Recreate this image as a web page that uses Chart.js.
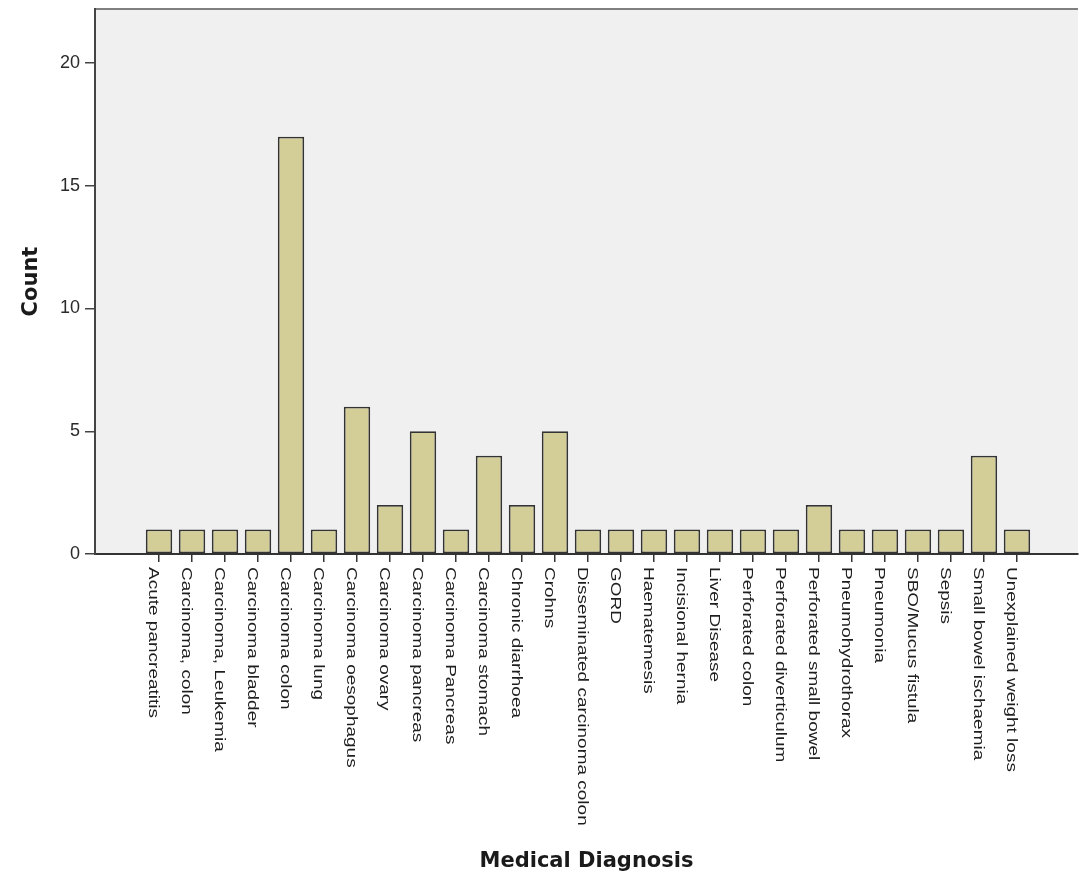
<!DOCTYPE html>
<html>
<head>
<meta charset="utf-8">
<script src="https://cdn.jsdelivr.net/npm/chart.js@4.4.1/dist/chart.umd.min.js"></script>
<style>
  body { margin: 0; background: #fff; }
  #wrap { width: 1079px; height: 877px; }
</style>
</head>
<body>
<div id="wrap"><canvas id="chart"></canvas></div>
<script>
// categories and counts
const diagnoses = [
    'Acute pancreatitis', 'Carcinoma, colon', 'Carcinoma, Leukemia', 'Carcinoma bladder',
    'Carcinoma colon', 'Carcinoma lung', 'Carcinoma oesophagus', 'Carcinoma ovary',
    'Carcinoma pancreas', 'Carcinoma Pancreas', 'Carcinoma stomach', 'Chronic diarrhoea',
    'Crohns', 'Disseminated carcinoma colon', 'GORD', 'Haematemesis', 'Incisional hernia',
    'Liver Disease', 'Perforated colon', 'Perforated diverticulum', 'Perforated small bowel',
    'Pneumohydrothorax', 'Pneumonia', 'SBO/Mucus fistula', 'Sepsis', 'Small bowel ischaemia',
    'Unexplained weight loss'
];
const counts = [1, 1, 1, 1, 17, 1, 6, 2, 5, 1, 4, 2, 5, 1, 1, 1, 1, 1, 1, 1, 2, 1, 1, 1, 1, 4, 1];
const countTicks = [0, 5, 10, 15, 20];

/* ================= PLOT FRAME + ROTATED LABELS ====================== */
const plotFrame = {
    id: 'plotFrame',
    beforeDraw(chart) {
        const { ctx, chartArea: a } = chart;
        ctx.save();
        ctx.fillStyle = '#f0f0f0';
        ctx.fillRect(a.left, a.top, a.right - a.left, a.bottom - a.top);
        ctx.strokeStyle = '#808080';
        ctx.lineWidth = 2;
        ctx.beginPath();
        ctx.moveTo(a.left, a.top);
        ctx.lineTo(a.right, a.top);
        ctx.stroke();
        ctx.restore();
    },
    afterDraw(chart) {
        const { ctx, chartArea: a, scales: { x } } = chart;
        ctx.save();
        ctx.font = '19px "Liberation Sans", Arial, sans-serif';
        ctx.fillStyle = '#1e1e1e';
        ctx.textBaseline = 'alphabetic';
        diagnoses.forEach((name, i) => {
            const px = x.getPixelForValue(i);
            ctx.save();
            ctx.translate(px - 10, a.bottom + 13);
            ctx.rotate(Math.PI / 2);
            ctx.scale(1, 0.8);
            ctx.fillText(name, 0, 0);
            ctx.restore();
        });
        ctx.restore();
    }
};

const chart = document.querySelector('#chart').getContext('2d');

new Chart(chart, {
    type: 'bar',
    data: {
        datasets: [{
            label: 'Count',
            data: diagnoses.map((d, i) => ({ x: i, y: counts[i] })),
            backgroundColor: '#d3ce97',
            borderColor: '#333',
            borderWidth: 1.8,
            borderSkipped: false,
            barPercentage: 0.8,
            categoryPercentage: 1
        }]
    },
    options: {
        responsive: true,
        maintainAspectRatio: false,
        animation: false,
        layout: { padding: { top: 9, right: 1, left: 0, bottom: 0 } },
        plugins: {
            legend: { display: false },
            tooltip: { enabled: false }
        },
        scales: {
            x: {
                type: 'linear',
                offset: false,
                min: -1.94,
                max: 27.85,
                afterBuildTicks: s => { s.ticks = diagnoses.map((d, i) => ({ value: i })); },
                afterFit: s => { s.height = 323; s.paddingLeft = 0; s.paddingRight = 0; },
                ticks: { display: false },
                grid: { offset: false, drawOnChartArea: false, tickLength: 8, color: '#333', lineWidth: 1.5 },
                border: { color: '#333', width: 2 },
                title: {
                    display: true,
                    text: 'Medical Diagnosis',
                    color: '#1a1a1a',
                    font: { family: '"DejaVu Sans"', size: 21, weight: 'bold' },
                    padding: { top: 0, bottom: 3 }
                }
            },
            y: {
                min: 0,
                max: 22.2,
                afterBuildTicks: s => { s.ticks = countTicks.map(v => ({ value: v })); },
                afterFit: s => { s.width = 95; s.paddingTop = 0; s.paddingBottom = 0; },
                ticks: {
                    color: '#2a2a2a',
                    padding: 5,
                    font: { family: '"Liberation Sans"', size: 18 }
                },
                grid: { drawOnChartArea: false, tickLength: 10, color: '#444', lineWidth: 1.5 },
                border: { color: '#444', width: 2 },
                title: {
                    display: true,
                    text: 'Count',
                    color: '#1a1a1a',
                    font: { family: '"DejaVu Sans"', size: 21, weight: 'bold' },
                    padding: { top: 19, bottom: 0 }
                }
            }
        }
    },
    plugins: [plotFrame]
});
</script>
</body>
</html>
